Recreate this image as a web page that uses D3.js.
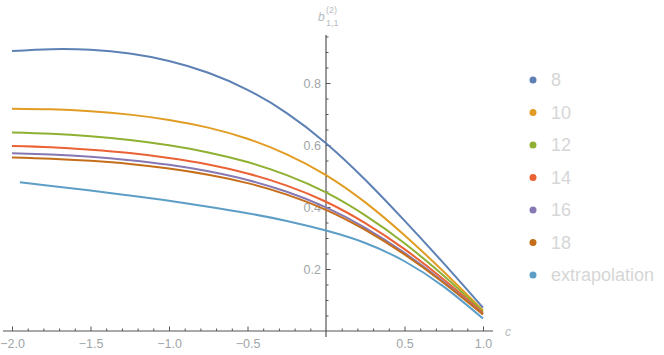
<!DOCTYPE html>
<html>
<head>
<meta charset="utf-8">
<script src="https://cdn.jsdelivr.net/npm/d3@7"></script>
<style>
  body { margin: 0; background: #fff; }
  text { font-family: "Liberation Sans", Arial, sans-serif; }
</style>
</head>
<body>
<svg></svg>
<script>
// x: c
// y: b^(2)_{1,1}

const cValues = [-2, -1.75, -1.5, -1.25, -1, -0.75, -0.5, -0.25, 0, 0.25, 0.5, 0.75, 1];
const cExtrap = [-1.95, -1.75, -1.5, -1.25, -1, -0.75, -0.5, -0.25, 0, 0.25, 0.5, 0.75, 1];

const b8  = [0.903, 0.909, 0.907, 0.895, 0.871, 0.833, 0.778, 0.703, 0.606, 0.488, 0.356, 0.218, 0.075];
const b10 = [0.717, 0.715, 0.709, 0.698, 0.681, 0.656, 0.620, 0.570, 0.503, 0.415, 0.309, 0.191, 0.066];
const b12 = [0.640, 0.636, 0.628, 0.616, 0.599, 0.576, 0.545, 0.503, 0.447, 0.373, 0.283, 0.178, 0.062];
const b14 = [0.597, 0.593, 0.585, 0.574, 0.558, 0.537, 0.508, 0.469, 0.417, 0.348, 0.264, 0.166, 0.058];
const b16 = [0.573, 0.569, 0.562, 0.551, 0.536, 0.515, 0.487, 0.449, 0.399, 0.333, 0.252, 0.158, 0.054];
const b18 = [0.560, 0.556, 0.549, 0.539, 0.524, 0.504, 0.477, 0.440, 0.391, 0.326, 0.247, 0.155, 0.053];
const bExtrap = [0.480, 0.468, 0.453, 0.437, 0.420, 0.401, 0.380, 0.355, 0.324, 0.284, 0.225, 0.143, 0.040];

const seriesNames = ["8", "10", "12", "14", "16", "18", "extrapolation"];
const seriesColors = ["#5E81B5", "#E19C24", "#8FB032", "#EB6235", "#8778B3", "#C56E1A", "#5D9EC7"];

const xMajor = [-2, -1.5, -1, -0.5, 0.5, 1];
const yMajor = [0.2, 0.4, 0.6, 0.8];

const width = 664;
const height = 355;

const series = [
  { x: cValues, y: b8 },
  { x: cValues, y: b10 },
  { x: cValues, y: b12 },
  { x: cValues, y: b14 },
  { x: cValues, y: b16 },
  { x: cValues, y: b18 },
  { x: cExtrap, y: bExtrap }
];

// Scales
const xScale = d3.scaleLinear()
    .domain([-2, 1])
    .range([12, 483]);

const yScale = d3.scaleLinear()
    .domain([0, 0.8])
    .range([331, 83]);

const svg = d3.select("svg")
    .attr("width", width)
    .attr("height", height);

const fmt = d => d3.format(".1f")(d).replace("-", "\u2212");

// minor ticks
const xMinor = d3.range(-20, 11).map(d => d / 10).filter(d => !xMajor.includes(d) && d !== 0);
const yMinor = d3.range(1, 20).map(d => d / 20).filter(d => !yMajor.includes(d));

svg.append("g")
    .attr("transform", `translate(0, ${yScale(0)})`)
    .call(d3.axisBottom(xScale).tickValues(xMinor).tickSize(-2.5).tickFormat(""))
    .call(g => g.select(".domain").remove())
    .selectAll("line").attr("stroke", "#555");

svg.append("g")
    .attr("transform", `translate(0, ${yScale(0)})`)
    .call(d3.axisBottom(xScale).tickValues(xMajor).tickSize(-4.5).tickPadding(8).tickFormat(fmt))
    .call(g => g.select(".domain").remove())
    .call(g => g.selectAll("line").attr("stroke", "#555"))
    .call(g => g.selectAll("text").attr("fill", "#a0a6a8").attr("font-size", 12.5));

svg.append("g")
    .attr("transform", `translate(${xScale(0)}, 0)`)
    .call(d3.axisLeft(yScale).tickValues(yMinor).tickSize(-2.5).tickFormat(""))
    .call(g => g.select(".domain").remove())
    .selectAll("line").attr("stroke", "#555");

svg.append("g")
    .attr("transform", `translate(${xScale(0)}, 0)`)
    .call(d3.axisLeft(yScale).tickValues(yMajor).tickSize(-4.5).tickPadding(5).tickFormat(d => d3.format(".1f")(d)))
    .call(g => g.select(".domain").remove())
    .call(g => g.selectAll("line").attr("stroke", "#555"))
    .call(g => g.selectAll("text").attr("fill", "#a0a6a8").attr("font-size", 12.5));

// axis lines
svg.append("line")
    .attr("x1", 3).attr("x2", 493)
    .attr("y1", yScale(0)).attr("y2", yScale(0))
    .attr("stroke", "#555").attr("stroke-width", 1.2);

svg.append("line")
    .attr("x1", xScale(0)).attr("x2", xScale(0))
    .attr("y1", 35).attr("y2", 337)
    .attr("stroke", "#555").attr("stroke-width", 1.2);

// curves
const line = d3.line()
    .x(d => xScale(d[0]))
    .y(d => yScale(d[1]))
    .curve(d3.curveNatural);

svg.append("g")
  .selectAll("path")
  .data(series)
  .enter()
  .append("path")
    .attr("d", s => line(s.x.map((v, i) => [v, s.y[i]])))
    .attr("fill", "none")
    .attr("stroke", (s, i) => seriesColors[i])
    .attr("stroke-width", 2);

// axis labels
svg.append("text")
    .text("c")
    .attr("x", 505).attr("y", 336)
    .attr("font-size", 12).attr("font-style", "italic")
    .attr("fill", "#b8bcbe");

const yLab = svg.append("text")
    .attr("x", 318).attr("y", 21)
    .attr("font-size", 12).attr("fill", "#b8bcbe");
yLab.append("tspan").text("b").attr("font-style", "italic");
yLab.append("tspan").text("(2)").attr("x", 326).attr("y", 13).attr("font-size", 9);
yLab.append("tspan").text("1,1").attr("x", 326).attr("y", 26).attr("font-size", 9);

// legend
const legend = svg.append("g")
  .selectAll("g")
  .data(seriesNames)
  .enter()
  .append("g")
    .attr("transform", (d, i) => `translate(533, ${80 + i * 32.5})`);

legend.append("circle")
    .attr("r", 3.5)
    .attr("fill", (d, i) => seriesColors[i]);

legend.append("text")
    .text(d => d)
    .attr("x", 18)
    .attr("dy", "0.36em")
    .attr("font-size", 18)
    .attr("fill", "#d6d6d6");
</script>
</body>
</html>
